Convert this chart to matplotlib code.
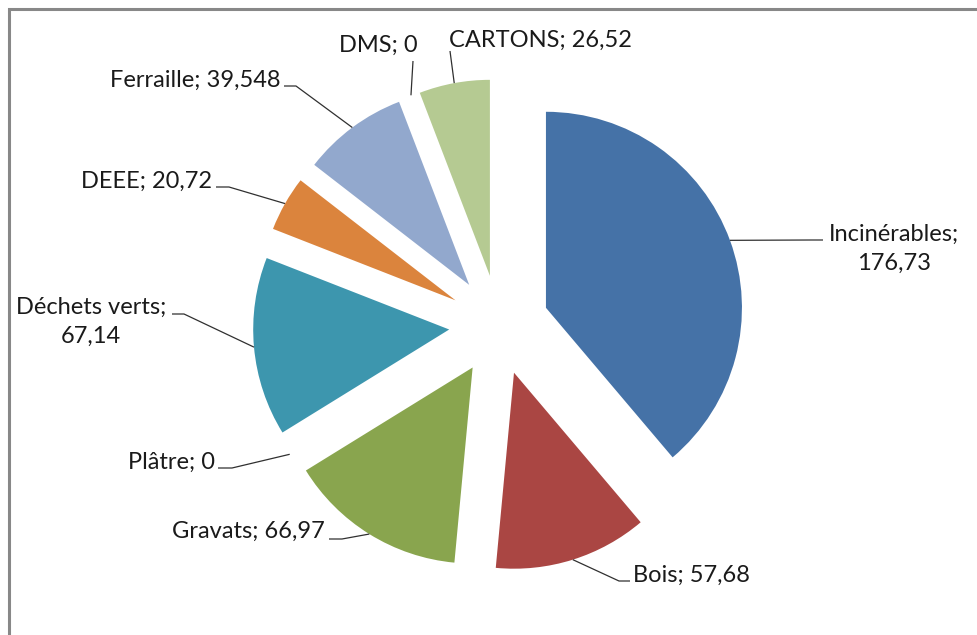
import matplotlib.pyplot as plt
import numpy as np

# data
categories = ['Incinérables', 'Bois', 'Gravats', 'Plâtre', 'Déchets verts',
              'DEEE', 'Ferraille', 'DMS', 'CARTONS']
values = [176.73, 57.68, 66.97, 0, 67.14, 20.72, 39.548, 0, 26.52]
value_text = ['176,73', '57,68', '66,97', '0', '67,14', '20,72', '39,548', '0', '26,52']
colors = ['#4572A7', '#AA4643', '#89A54E', '#80699B', '#3D96AE',
          '#DB843D', '#92A8CD', '#A47D7C', '#B5CA92']

# layout (pixels, origin top-left)
W, H = 978, 635
pie_cx, pie_cy = 499, 325
radius = 196
explode_px = 50
two_lines = [True, False, False, False, True, False, False, False, False]
text_pos = [(894, 249, 'center'), (633, 575, 'left'), (325, 531, 'right'),
            (215, 462, 'right'), (91, 322, 'center'), (212, 181, 'right'),
            (281, 80, 'right'), (378, 45, 'center'), (540, 40, 'center')]
leader_end = [(823, 240), (630, 581), (329, 539), (218, 468), (172, 314),
              (216, 187), (284, 86), (413, 61), (450, 51)]
leader_elbow = [(811, 240), (619, 581), (342, 539), (232, 468), (184, 314),
                (229, 187), (296, 86), (413, 61), (450, 51)]

plt.rcParams['font.family'] = ['Lato', 'DejaVu Sans']

fig = plt.figure(figsize=(W / 100, H / 100), dpi=100)
ax = fig.add_axes([0, 0, 1, 1])

# pie explode is in data units here (pixels)
wedges, _ = ax.pie(values, colors=colors, startangle=90, counterclock=False,
                   radius=radius, center=(pie_cx, H - pie_cy),
                   explode=[explode_px] * len(values),
                   wedgeprops=dict(linewidth=0))

ax.set_xlim(0, W)
ax.set_ylim(0, H)
ax.set_aspect('equal')
ax.axis('off')

for i, w in enumerate(wedges):
    th = np.deg2rad((w.theta1 + w.theta2) / 2.)
    ax_x = w.center[0] + w.r * np.cos(th)
    ax_y = w.center[1] + w.r * np.sin(th)
    ex, ey = leader_end[i]
    bx, by = leader_elbow[i]
    ax.plot([ax_x, bx, ex], [ax_y, H - by, H - ey], color='#303030', lw=0.9,
            solid_capstyle='butt')

    sep = ';\n' if two_lines[i] else '; '
    tx, ty, ha = text_pos[i]
    ax.text(tx, H - ty, categories[i] + sep + value_text[i], ha=ha, va='center',
            multialignment='center', fontsize=17, color='#1a1a1a', linespacing=1.45)

# chart area border
ax.plot([9, 9, W + 5], [-5, H - 9, H - 9], color='#888888', lw=2.2, clip_on=False,
        solid_joinstyle='miter')

fig.savefig('out.png', dpi=100)
